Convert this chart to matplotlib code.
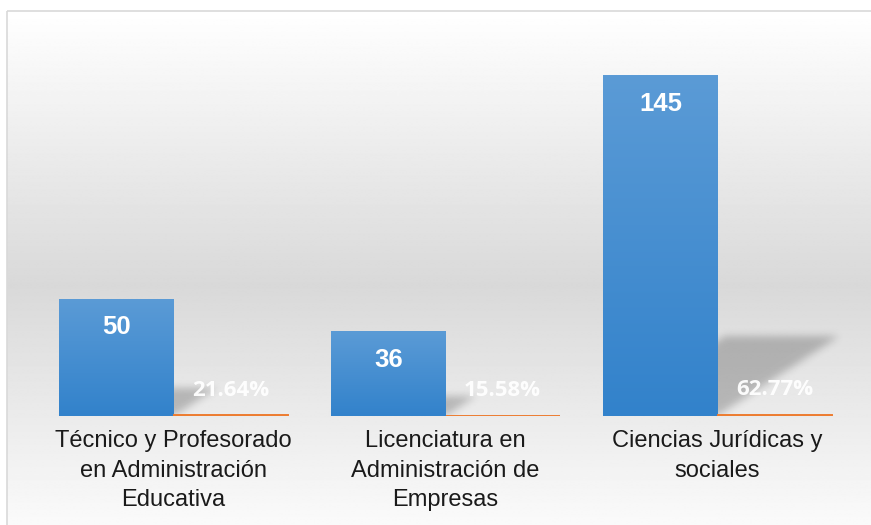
import numpy as np
import matplotlib
matplotlib.use("Agg")
import matplotlib.pyplot as plt
from matplotlib.path import Path
from matplotlib.patches import Rectangle

# Data
categories = ["Técnico y Profesorado\nen Administración\nEducativa",
              "Licenciatura en\nAdministración de\nEmpresas",
              "Ciencias Jurídicas y\nsociales"]
counts = [50, 36, 145]
shares = [0.2164, 0.1558, 0.6277]

BLUE_TOP = np.array([0x5b, 0x9b, 0xd6]) / 255
BLUE_BOTTOM = np.array([0x32, 0x82, 0xcb]) / 255
ORANGE = "#ed7d31"
YMAX = 160
BAR_W = 0.42


def blur(a, sigma):
    """Simple separable gaussian blur with numpy only."""
    r = int(3 * sigma)
    k = np.exp(-0.5 * (np.arange(-r, r + 1) / sigma) ** 2)
    k /= k.sum()
    a = np.apply_along_axis(lambda m: np.convolve(m, k, mode="same"), 0, a)
    a = np.apply_along_axis(lambda m: np.convolve(m, k, mode="same"), 1, a)
    return a


fig = plt.figure(figsize=(8.71, 5.25), dpi=100)

# Background panel with a vertical white-gray-white gradient
bg = fig.add_axes([0, 0, 1, 1], zorder=-1)
bg.axis("off")
t = np.linspace(0, 1, 400)
gray = 1.0 - 0.15 * (1 - np.abs(2 * t - 1))
bg.imshow(np.repeat(gray[:, None], 2, axis=1), cmap="gray", vmin=0, vmax=1,
          extent=(7, 880, 560, 11), aspect="auto", interpolation="bilinear")
bg.add_patch(Rectangle((7, 11), 880, 560, fill=False, edgecolor="#d9d9d9", lw=1.2))
bg.set_xlim(0, 871)
bg.set_ylim(525, 0)

ax = fig.add_axes([37.5 / 871, 109 / 525, 816 / 871, 376 / 525])
ax.patch.set_alpha(0)
x = np.arange(len(categories))

# Perspective shadows cast by the blue bars
nx, ny = 816, 376
xs = np.linspace(-0.5, 2.5, nx)
ys = np.linspace(0, YMAX, ny)
gx, gy = np.meshgrid(xs, ys)
pts = np.column_stack([gx.ravel(), gy.ravel()])
mask = np.zeros(gx.size)
for xi, v in zip(x, counts):
    x0, x1 = xi - BAR_W, xi
    dx, h = 0.0031 * v, 0.235 * v
    poly = Path([(x0, 0), (x1, 0), (x1 + dx, h), (x0 + dx, h)])
    mask = np.maximum(mask, poly.contains_points(pts).astype(float))
mask = blur(mask.reshape(ny, nx), 4)
shadow = np.zeros((ny, nx, 4))
shadow[..., 3] = mask * 0.22
ax.imshow(shadow, origin="lower", extent=(-0.5, 2.5, 0, YMAX), aspect="auto", zorder=1)

# Blue bars with a vertical gradient
bars = ax.bar(x - BAR_W / 2, counts, width=BAR_W, color=BLUE_TOP, zorder=2)
grad = np.linspace(0, 1, 256)[:, None, None]
grad_img = BLUE_BOTTOM + (BLUE_TOP - BLUE_BOTTOM) * grad
for b in bars:
    im = ax.imshow(grad_img, origin="lower", aspect="auto", zorder=2.5,
                   extent=(b.get_x(), b.get_x() + b.get_width(), 0, b.get_height()))
    im.set_clip_path(b)

# Orange share bars (tiny on this scale)
ax.bar(x + BAR_W / 2, shares, width=BAR_W, color=ORANGE, edgecolor=ORANGE,
       lw=1.4, zorder=3)

for xi, v in zip(x, counts):
    ax.annotate(str(v), (xi - BAR_W / 2, v), xytext=(0, -20.5), textcoords="offset points",
                ha="center", va="center", color="white", fontsize=18.5,
                fontweight="bold", family="Liberation Sans", zorder=5)
for xi, p in zip(x, shares):
    ax.annotate(f"{p * 100:.2f}%", (xi + BAR_W / 2, p), xytext=(0, 18),
                textcoords="offset points", ha="center", va="center",
                color="white", alpha=0.95, fontsize=16, fontweight="bold",
                family="Open Sans", zorder=5)

ax.set_xlim(-0.5, 2.5)
ax.set_ylim(0, YMAX)
ax.set_yticks([])
ax.set_xticks(x)
ax.set_xticklabels(categories, fontsize=17, family="Liberation Sans", color="#1a1a1a",
                   linespacing=1.45)
ax.tick_params(axis="x", length=0, pad=10)
for s in ax.spines.values():
    s.set_visible(False)

fig.savefig("out.png", dpi=100)
